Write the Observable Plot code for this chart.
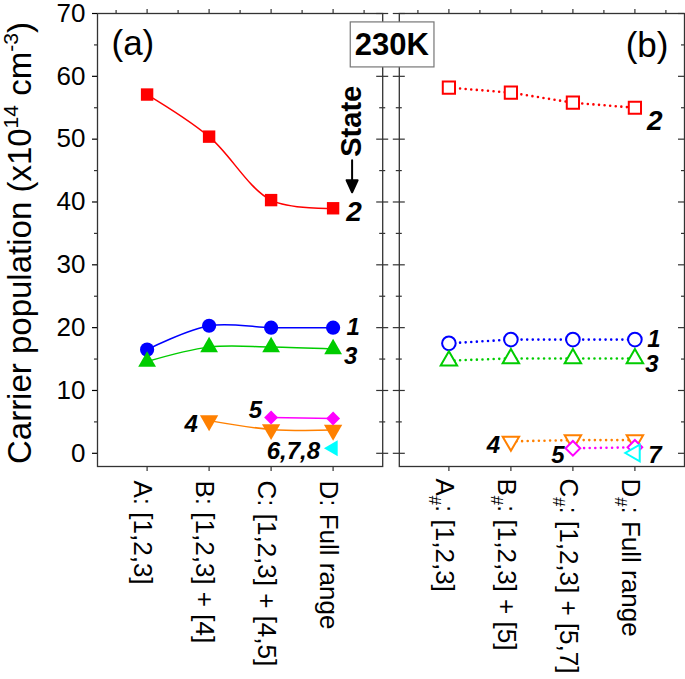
<!DOCTYPE html>
<html>
<head>
<meta charset="utf-8">
<script src="https://cdn.jsdelivr.net/npm/d3@7"></script>
<script src="https://cdn.jsdelivr.net/npm/@observablehq/plot@0.6"></script>
<style>
  body { margin: 0; background: #fff; }
  #chart svg { display: block; }
</style>
</head>
<body>
<div id="chart"></div>
<script>
// ---------------- data ----------------
const panels = ["a", "b"];
const catIndex = [0, 1, 2, 3];
const xLabelsA = ["A: [1,2,3]", "B: [1,2,3] + [4]", "C: [1,2,3] + [4,5]", "D: Full range"];
const xLabelsB = ["A_{#}: [1,2,3]", "B_{#}: [1,2,3] + [5]", "C_{#}: [1,2,3] + [5,7]", "D_{#}: Full range"];
const yMajorTicks = [0, 10, 20, 30, 40, 50, 60, 70];
const yMinorTicks = [5, 15, 25, 35, 45, 55, 65];
const xMinorTicks = [-0.5, 0.5, 1.5, 2.5, 3.5];
const yTitle = "Carrier population (x10^{14} cm^{-3})";
const panelTitles = ["(a)", "(b)"];
const tempLabel = "230K";
const stateWord = "State";

// panel (a): carrier population per state
const a_state1 = [16.5, 20.3, 20.0, 20.0];
const a_state2 = [57.1, 50.4, 40.3, 39.0];
const a_state3 = [14.6, 16.9, 16.9, 16.6];
const a_state4 = [null, 5.2, 3.8, 3.7];
const a_state5 = [null, null, 5.7, 5.55];
const a_state678 = [null, null, null, 0.8];
// panel (b)
const b_state1 = [17.5, 18.1, 18.1, 18.1];
const b_state2 = [58.2, 57.4, 55.8, 55.0];
const b_state3 = [14.75, 15.1, 15.1, 15.1];
const b_state4 = [null, 1.9, 2.1, 2.1];
const b_state5 = [null, null, 0.8, 0.95];
const b_state7 = [null, null, null, 0.05];

// ---------------- styling ----------------
const FONT = "Liberation Sans, Arial, Helvetica, sans-serif";
const frameColor = "#333";
const C = {red: "#ff0000", blue: "#0000ff", green: "#00cc00", orange: "#ff8000", magenta: "#ff00ff", cyan: "#00ffff"};
const xMin = -0.8, xMax = 3.8, yMin = -2.1, yMax = 70;

const sqrt3 = Math.sqrt(3);
const triDown = {draw(ctx, size) {
  const y = -Math.sqrt(size / (sqrt3 * 3));
  ctx.moveTo(0, -y * 2); ctx.lineTo(-sqrt3 * y, y); ctx.lineTo(sqrt3 * y, y); ctx.closePath();
}};
const triLeft = {draw(ctx, size) {
  const y = -Math.sqrt(size / (sqrt3 * 3));
  ctx.moveTo(y * 2, 0); ctx.lineTo(-y, -sqrt3 * y); ctx.lineTo(-y, sqrt3 * y); ctx.closePath();
}};
// filled-head arrow shape for Plot.vector
const solidArrow = {draw(ctx, l) {
  const h = 12, w = 11;
  ctx.moveTo(0, 0); ctx.lineTo(0, -l + h);
  ctx.moveTo(-w / 2, -l + h); ctx.lineTo(0, -l); ctx.lineTo(w / 2, -l + h); ctx.closePath();
}};

const rows = (panel, vals) => vals.map((v, k) => ({panel, i: catIndex[k], v})).filter(d => d.v != null);

const seriesA = [
  {vals: a_state2, color: C.red, symbol: "square", r: 7},
  {vals: a_state1, color: C.blue, symbol: "circle", r: 7.1},
  {vals: a_state3, color: C.green, symbol: "triangle", r: 6.6},
  {vals: a_state4, color: C.orange, symbol: triDown, r: 6.8},
  {vals: a_state5, color: C.magenta, symbol: "diamond2", r: 6.3},
  {vals: a_state678, color: C.cyan, symbol: triLeft, r: 5.9}
];
const seriesB = [
  {vals: b_state2, color: C.red, symbol: "square", r: 6.9},
  {vals: b_state1, color: C.blue, symbol: "circle", r: 6.8},
  {vals: b_state3, color: C.green, symbol: "triangle", r: 6.1},
  {vals: b_state4, color: C.orange, symbol: triDown, r: 6.1},
  {vals: b_state5, color: C.magenta, symbol: "diamond2", r: 6.6},
  {vals: b_state7, color: C.cyan, symbol: triLeft, r: 6.2}
];

// tick helpers (pixel lengths via insets)
function yTicks(panel, values, xEdge, outLeft, outRight) {
  return Plot.ruleY(values.map(v => ({panel, v})), {
    fx: "panel", y: "v", x1: xEdge, x2: xEdge,
    insetLeft: -outLeft, insetRight: -outRight, stroke: frameColor, strokeWidth: 1.2
  });
}
function xTicks(panel, values, yEdge, up, down) {
  return Plot.ruleX(values.map(v => ({panel, v})), {
    fx: "panel", x: "v", y1: yEdge, y2: yEdge,
    insetTop: -up, insetBottom: -down, stroke: frameColor, strokeWidth: 1.2
  });
}
function stateLabel(panel, text, vals, k, dx, dy, size = 24, anchor = "middle") {
  return Plot.text([{panel, i: catIndex[k], v: vals[k], t: text}], {
    fx: "panel", x: "i", y: "v", text: "t", dx, dy, textAnchor: anchor,
    fontSize: size, fontWeight: "bold", fontStyle: "italic", fill: "#000"
  });
}

const marks = [
  Plot.frame({stroke: frameColor, strokeWidth: 1.3}),
  Plot.axisY({ticks: yMajorTicks, tickSize: 5, tickPadding: 7, fontSize: 26, label: null, strokeWidth: 1.2}),
  yTicks("a", yMinorTicks, xMin, 3, 0),
  yTicks("a", yMajorTicks, xMax, 6, 6), yTicks("a", yMinorTicks, xMax, 3, 3),
  yTicks("b", yMajorTicks, xMin, 6, 6), yTicks("b", yMinorTicks, xMin, 3, 3),
  yTicks("b", yMajorTicks, xMax, 6, 0), yTicks("b", yMinorTicks, xMax, 3, 0),
  ...panels.flatMap(p => [xTicks(p, catIndex, yMax, 4, 0), xTicks(p, xMinorTicks, yMax, 3, 0), xTicks(p, catIndex, yMin, 0, 5)]),

  // x tick labels
  Plot.text(catIndex.map(k => ({panel: "a", i: k, t: xLabelsA[k]})), {
    fx: "panel", x: "i", text: "t", frameAnchor: "bottom", rotate: 90, textAnchor: "start",
    lineAnchor: "middle", dx: -5, dy: 14, fontSize: 26
  }),
  Plot.text(catIndex.map(k => ({panel: "b", i: k, t: xLabelsB[k]})), {
    fx: "panel", x: "i", text: "t", frameAnchor: "bottom", rotate: 90, textAnchor: "start",
    lineAnchor: "middle", dx: -5, dy: 12, fontSize: 26
  }),

  // y title
  Plot.text([{panel: "a", t: yTitle}], {
    fx: "panel", text: "t", frameAnchor: "left", rotate: -90, textAnchor: "middle", lineAnchor: "middle",
    dx: -77, dy: 3, fontSize: 33
  }),

  // panel titles
  Plot.text([{panel: "a", t: panelTitles[0]}], {
    fx: "panel", text: "t", frameAnchor: "top-left", textAnchor: "start", lineAnchor: "middle",
    dx: 14, dy: 30.5, fontSize: 35
  }),
  Plot.text([{panel: "b", t: panelTitles[1]}], {
    fx: "panel", text: "t", frameAnchor: "top-right", textAnchor: "end", lineAnchor: "middle",
    dx: -16, dy: 32.5, fontSize: 35
  }),

  // lines panel (a): smooth solid
  ...seriesA.filter(s => rows("a", s.vals).length > 1).map(s =>
    Plot.line(rows("a", s.vals), {fx: "panel", x: "i", y: "v", stroke: s.color, strokeWidth: 1.5, curve: "catmull-rom"})),
  // lines panel (b): dotted
  ...seriesB.filter(s => rows("b", s.vals).length > 1).map(s =>
    Plot.line(rows("b", s.vals), {fx: "panel", x: "i", y: "v", stroke: s.color, strokeWidth: 2.6,
      strokeDasharray: "0 5.6", strokeLinecap: "round"})),
  // markers
  ...seriesA.map(s => Plot.dot(rows("a", s.vals), {fx: "panel", x: "i", y: "v", symbol: s.symbol, r: s.r, fill: s.color, stroke: "none"})),
  ...seriesB.map(s => Plot.dot(rows("b", s.vals), {fx: "panel", x: "i", y: "v", symbol: s.symbol, r: s.r, fill: "#fff", stroke: s.color, strokeWidth: 2})),

  // state labels (a)
  stateLabel("a", "2", a_state2, 3, 21, 4, 28),
  stateLabel("a", "1", a_state1, 3, 20, 0),
  stateLabel("a", "3", a_state3, 3, 17.5, 7.6),
  stateLabel("a", "4", a_state4, 1, -18, 4),
  stateLabel("a", "5", a_state5, 2, -15.6, -7),
  stateLabel("a", "6,7,8", a_state678, 3, -13, 3, 24, "end"),
  // "State" annotation with downward arrow pointing at label 2
  Plot.text([{panel: "a", i: catIndex[3], v: a_state2[3], t: stateWord}], {
    fx: "panel", x: "i", y: "v", text: "t", rotate: -90, textAnchor: "middle", lineAnchor: "middle",
    dx: 19, dy: -87, fontSize: 29, fontWeight: "bold", fill: "#000"
  }),
  Plot.vector([{panel: "a", i: catIndex[3], v: a_state2[3]}], {
    fx: "panel", x: "i", y: "v", rotate: 180, length: 32, anchor: "start", shape: solidArrow,
    dx: 19, dy: -48, stroke: "#000", fill: "#000", strokeWidth: 2
  }),
  // state labels (b)
  stateLabel("b", "2", b_state2, 3, 20, 13, 28),
  stateLabel("b", "1", b_state1, 3, 19, 0),
  stateLabel("b", "3", b_state3, 3, 17, 6),
  stateLabel("b", "4", b_state4, 1, -17.6, 3.5),
  stateLabel("b", "5", b_state5, 2, -15, 7),
  stateLabel("b", "7", b_state7, 3, 20, 2),

  // temperature badge (drawn last, in the right facet so it sits on top)
  Plot.text([{panel: "b", t: tempLabel}], {
    fx: "panel", text: "t", frameAnchor: "top-left", textAnchor: "middle", lineAnchor: "middle",
    dx: -7.5, dy: 31.5, fontSize: 31, fontWeight: "bold", fill: "#000"
  })
];

const svg = Plot.plot({
  width: 685,
  height: 679,
  marginLeft: 97,
  marginRight: 1,
  marginTop: 13,
  marginBottom: 213,
  style: {fontFamily: FONT, background: "#fff", color: "#000", overflow: "visible"},
  fx: {domain: panels, paddingInner: 0.055, paddingOuter: 0, round: false, axis: null, label: null},
  x: {domain: [xMin, xMax], axis: null},
  y: {domain: [yMin, yMax]},
  marks
});
document.getElementById("chart").appendChild(svg);

// ---------------- rich text (super/subscripts) ----------------
const NS = "http://www.w3.org/2000/svg";
svg.querySelectorAll("text").forEach(t => {
  if (t.querySelector("tspan")) return;
  const s = t.textContent;
  if (!/[\^_]\{/.test(s)) return;
  const fs = parseFloat(getComputedStyle(t).fontSize) || 20;
  t.textContent = "";
  let cur = 0;
  const seg = (txt, target, size) => {
    const ts = document.createElementNS(NS, "tspan");
    ts.textContent = txt;
    const d = target - cur;
    if (d) ts.setAttribute("dy", d.toFixed(2));
    cur = target;
    if (size) ts.setAttribute("font-size", size.toFixed(2));
    t.appendChild(ts);
  };
  const re = /([\^_])\{([^}]*)\}/g;
  let last = 0, m;
  while ((m = re.exec(s))) {
    if (m.index > last) seg(s.slice(last, m.index), 0);
    if (m[1] === "^") seg(m[2], -0.40 * fs, 0.64 * fs);
    else seg(m[2], 0.24 * fs, 0.64 * fs);
    last = re.lastIndex;
  }
  if (last < s.length) seg(s.slice(last), 0);
});

// ---------------- box around the temperature badge ----------------
svg.querySelectorAll("text").forEach(t => {
  if (t.textContent !== tempLabel) return;
  const bb = t.getBBox();
  const rect = document.createElementNS(NS, "rect");
  rect.setAttribute("x", bb.x - 4.5);
  rect.setAttribute("y", bb.y - 5);
  rect.setAttribute("width", bb.width + 9);
  rect.setAttribute("height", bb.height + 10);
  rect.setAttribute("fill", "#fff");
  rect.setAttribute("stroke", "#777");
  rect.setAttribute("stroke-width", "1.2");
  const tr = t.getAttribute("transform");
  if (tr) rect.setAttribute("transform", tr);
  t.parentNode.insertBefore(rect, t);
});
</script>
</body>
</html>
